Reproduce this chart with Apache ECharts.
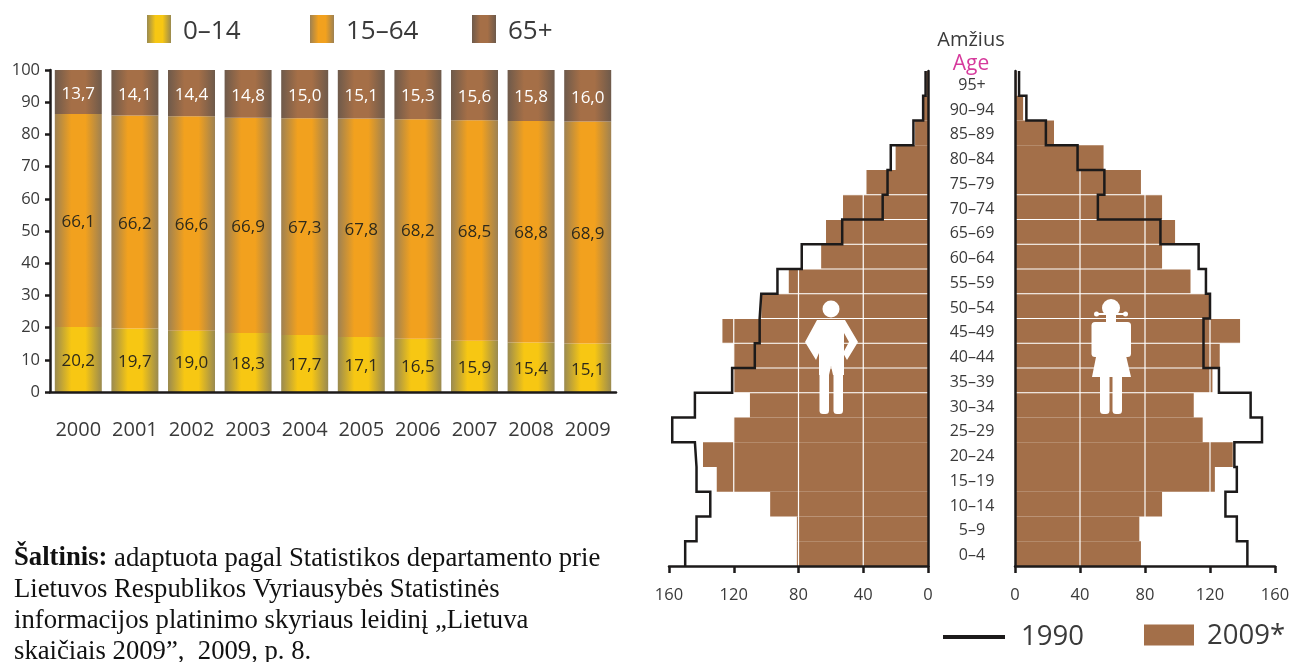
<!DOCTYPE html>
<html>
<head>
<meta charset="utf-8">
<title>Lietuvos gyventojai</title>
<style>
html, body { margin: 0; padding: 0; background: #fff; }
#chart { width: 1289px; height: 662px; }
</style>
<script src="https://cdn.jsdelivr.net/npm/echarts@6/dist/echarts.min.js"></script>
</head>
<body>
<div id="chart"></div>
<script>
// left chart: age structure, percent
var years = ['2000', '2001', '2002', '2003', '2004', '2005', '2006', '2007', '2008', '2009'];
var age0_14 = [20.2, 19.7, 19.0, 18.3, 17.7, 17.1, 16.5, 15.9, 15.4, 15.1];
var age15_64 = [66.1, 66.2, 66.6, 66.9, 67.3, 67.8, 68.2, 68.5, 68.8, 68.9];
var age65 = [13.7, 14.1, 14.4, 14.8, 15.0, 15.1, 15.3, 15.6, 15.8, 16.0];

// right chart: pyramid, from youngest to oldest
var ages = ['0–4', '5–9', '10–14', '15–19', '20–24', '25–29', '30–34', '35–39', '40–44', '45–49',
    '50–54', '55–59', '60–64', '65–69', '70–74', '75–79', '80–84', '85–89', '90–94', '95+'];
var men2009 = [81, 81, 97.5, 130.5, 139, 120, 110, 121, 120, 127, 103, 86, 66, 63, 52.5, 38, 20, 8, 3, 1];
var men1990 = [150, 143, 134.5, 143, 144, 158, 144, 121, 107, 104, 103, 93, 78, 53, 28, 25, 23, 9, 3, 1.5];
var women2009 = [77.5, 76.5, 90.5, 123, 134, 115.5, 110, 121.5, 126, 138.5, 119.5, 108, 90.5, 98.5, 90.5, 77.5, 54.5, 24, 5, 1];
var women1990 = [143, 136.5, 129.5, 136.5, 135, 152, 145, 125.5, 116, 116, 120, 117.5, 113, 89.5, 51, 55, 38.5, 19, 7, 2.5];

// white rules painted over the 2009 bars
var ruleValues = [40, 80, 120];
var ruleRows = [7, 8, 9, 10, 11, 12, 13, 14, 15];
var ruleTop = 16;

var sourceLines = [
    '{b|Šaltinis:} adaptuota pagal Statistikos departamento prie',
    'Lietuvos Respublikos Vyriausybės Statistinės',
    'informacijos platinimo skyriaus leidinį „Lietuva',
    'skaičiais 2009”,  2009, p. 8.'
];

var FONT = '"Open Sans", "Noto Sans", sans-serif';
var INK = '#1c1a1a';
var TEXT = '#3a3a3a';
var BROWN = '#a36f49';

function barFill(edge, mid) {
    return new echarts.graphic.LinearGradient(0, 0, 1, 0, [
        { offset: 0, color: edge },
        { offset: 0.35, color: mid },
        { offset: 0.65, color: mid },
        { offset: 1, color: edge }
    ]);
}

function stackSeries(name, values, edge, mid, labelColor) {
    return {
        name: name,
        type: 'bar',
        stack: 'age',
        barWidth: 47,
        xAxisIndex: 0,
        yAxisIndex: 0,
        data: values,
        itemStyle: { color: barFill(edge, mid) },
        label: {
            show: true,
            position: 'inside',
            offset: [0, 2],
            color: labelColor,
            fontFamily: FONT,
            fontSize: 17,
            formatter: function (p) {
                return p.value.toFixed(1).replace('.', ',');
            }
        }
    };
}

// 1990 outline: each age band is one vertical run on the hidden row axis
function stepPoints(values) {
    var pts = [];
    values.forEach(function (v, i) {
        pts.push([v, i]);
        pts.push([v, i + 1]);
    });
    return pts;
}

function pyramidSeries(values2009, values1990, xIdx, catIdx, rowIdx) {
    var list = [{
        name: '2009*',
        type: 'bar',
        barCategoryGap: 0,
        xAxisIndex: xIdx,
        yAxisIndex: catIdx,
        data: values2009,
        itemStyle: { color: BROWN },
        z: 2
    }];
    ruleValues.forEach(function (v) {
        list.push(ruleSeries([[v, 0], [v, ruleTop]], xIdx, rowIdx));
    });
    ruleRows.forEach(function (r) {
        list.push(ruleSeries([[0, r], [160, r]], xIdx, rowIdx));
    });
    list.push({
        name: '1990',
        type: 'line',
        xAxisIndex: xIdx,
        yAxisIndex: rowIdx,
        data: stepPoints(values1990),
        showSymbol: false,
        clip: false,
        lineStyle: { color: INK, width: 2.5, join: 'miter' },
        itemStyle: { color: INK },
        z: 4
    });
    return list;
}

function ruleSeries(points, xIdx, rowIdx) {
    return {
        type: 'line',
        xAxisIndex: xIdx,
        yAxisIndex: rowIdx,
        data: points,
        showSymbol: false,
        silent: true,
        lineStyle: { color: '#fff', width: 1.2 },
        z: 3
    };
}

// rich token, a plain padding does not move middle aligned text
function legendItem(name, left, top, w, h, size, textPad) {
    return {
        data: [{ name: name, icon: 'rect' }],
        left: left,
        top: top,
        padding: 0,
        itemWidth: w,
        itemHeight: h,
        selectedMode: false,
        formatter: '{t|{name}}',
        textStyle: {
            rich: { t: { color: TEXT, fontFamily: FONT, fontSize: size, padding: textPad } }
        }
    };
}

var axisLine = { onZero: false, lineStyle: { color: INK, width: 2.5 } };
var axisTick = { length: 7, lineStyle: { color: INK, width: 2.5 } };

function pyramidX(gridIndex, inverse) {
    return {
        type: 'value',
        gridIndex: gridIndex,
        inverse: inverse,
        min: 0,
        max: 160,
        interval: 40,
        z: 5,
        splitLine: { show: false },
        axisLine: Object.assign({ show: true }, axisLine),
        axisTick: Object.assign({ show: true }, axisTick),
        axisLabel: { color: TEXT, fontFamily: FONT, fontSize: 16.5, margin: 21 }
    };
}

function pyramidAges(gridIndex, position, showLabels) {
    return {
        type: 'category',
        gridIndex: gridIndex,
        position: position,
        data: ages,
        z: 5,
        axisLine: axisLine,
        axisTick: axisTick,
        axisLabel: {
            show: showLabels,
            interval: 0,
            align: 'center',
            margin: 43,
            formatter: '{t|{value}}',
            rich: {
                t: { color: TEXT, fontFamily: FONT, fontSize: 16, padding: [4, 0, 0, 0] }
            }
        }
    };
}

function hiddenRows(gridIndex) {
    return { type: 'value', gridIndex: gridIndex, min: 0, max: 20, show: false };
}

// white silhouettes sitting on the bars
function poly(points) {
    return { type: 'polygon', z: 50, silent: true, shape: { points: points }, style: { fill: '#fff' } };
}
function dot(cx, cy, r) {
    return { type: 'circle', z: 50, silent: true, shape: { cx: cx, cy: cy, r: r }, style: { fill: '#fff' } };
}
function limb(x, y, w, h) {
    return { type: 'rect', z: 50, silent: true, shape: { x: x, y: y, width: w, height: h, r: 3.5 }, style: { fill: '#fff' } };
}

var figures = [
    dot(831, 309, 8.5),
    poly([[817, 320], [845, 320], [858, 342], [847, 360], [843, 353], [849, 342], [844, 333], [844, 375], [833, 375],
        [831, 366], [829, 375], [819, 375], [819, 353], [816, 360], [805, 342], [817, 320]]),
    limb(819.5, 370, 9.5, 44),
    limb(833.5, 370, 9.5, 44),
    dot(1111, 308, 9),
    dot(1096.5, 314, 2.5),
    dot(1125.5, 314, 2.5),
    poly([[1097, 313], [1125, 313], [1125, 315], [1097, 315]]),
    poly([[1106, 314], [1116, 314], [1116, 322], [1106, 322]]),
    limb(1091.5, 322, 8, 35),
    limb(1123, 322, 8, 35),
    poly([[1095, 322], [1127, 322], [1124, 347], [1131, 377], [1092, 377], [1098, 347]]),
    limb(1100, 372, 9.5, 42),
    limb(1112.5, 372, 9.5, 42)
];

var chart = echarts.init(document.getElementById('chart'));

chart.setOption({
    animation: false,
    backgroundColor: '#fff',
    title: [{
        text: 'Amžius',
        left: 971,
        top: 30,
        padding: 0,
        textAlign: 'center',
        textStyle: { color: TEXT, fontFamily: FONT, fontSize: 20, fontWeight: 'normal' }
    }, {
        text: 'Age',
        left: 971,
        top: 54,
        padding: 0,
        textAlign: 'center',
        textStyle: { color: '#d63a9c', fontFamily: FONT, fontSize: 21, fontWeight: 'normal' }
    }, {
        text: sourceLines.join('\n'),
        left: 14,
        top: 543,
        padding: 0,
        textStyle: {
            color: '#111',
            fontFamily: '"Liberation Serif", serif',
            fontSize: 26.7,
            fontWeight: 'normal',
            lineHeight: 31,
            rich: {
                b: { fontFamily: '"Liberation Serif", serif', fontSize: 26.7, fontWeight: 'bold', color: '#111', lineHeight: 31 }
            }
        }
    }],
    legend: [
        legendItem('0–14', 147, 15, 24, 28, 26, [6, 0, 0, 7]),
        legendItem('15–64', 310, 15, 24, 28, 26, [6, 0, 0, 7]),
        legendItem('65+', 472, 15, 24, 28, 26, [6, 0, 0, 7]),
        legendItem('1990', 943, 623, 62, 4, 27.5, [0, 0, 0, 11]),
        legendItem('2009*', 1144, 622, 50, 21, 27.5, [2, 0, 0, 8])
    ],
    grid: [
        { left: 50, right: 673, top: 70, bottom: 270, outerBoundsMode: 'none' },
        { left: 669, right: 361, top: 71, bottom: 96, outerBoundsMode: 'none' },
        { left: 1015, right: 14, top: 71, bottom: 96, outerBoundsMode: 'none' }
    ],
    xAxis: [{
        type: 'category',
        gridIndex: 0,
        data: years,
        z: 5,
        axisLine: axisLine,
        axisTick: axisTick,
        axisLabel: { interval: 0, color: TEXT, fontFamily: FONT, fontSize: 20, margin: 28 }
    }, pyramidX(1, true), pyramidX(2, false)],
    yAxis: [{
        type: 'value',
        gridIndex: 0,
        min: 0,
        max: 100,
        interval: 10,
        z: 5,
        splitLine: { show: false },
        axisLine: Object.assign({ show: true }, axisLine),
        axisTick: { show: true, length: 5, lineStyle: { color: INK, width: 2.5 } },
        axisLabel: { color: TEXT, fontFamily: FONT, fontSize: 16.5, margin: 10 }
    },
    pyramidAges(1, 'right', false), hiddenRows(1),
    pyramidAges(2, 'left', true), hiddenRows(2)],
    series: [
        stackSeries('0–14', age0_14, '#9a8a50', '#f7c713', '#2e2a1c'),
        stackSeries('15–64', age15_64, '#9e8152', '#f2a11e', '#2e2a1c'),
        stackSeries('65+', age65, '#6e5a4b', '#a56f47', '#fff')
    ].concat(
        pyramidSeries(men2009, men1990, 1, 1, 2),
        pyramidSeries(women2009, women1990, 2, 3, 4)
    ),
    graphic: figures
});
</script>
</body>
</html>
